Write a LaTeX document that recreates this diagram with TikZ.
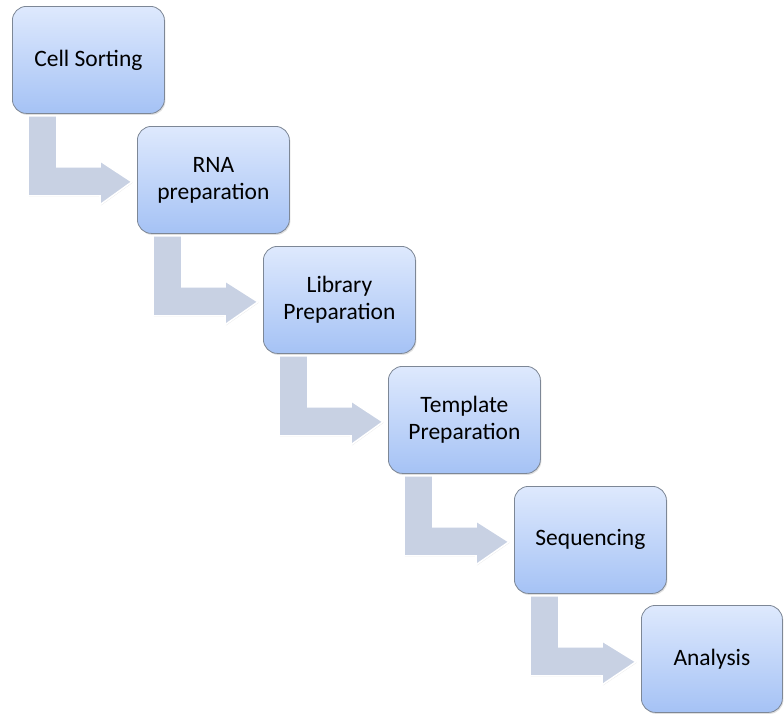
\documentclass[tikz,border=0pt]{standalone}
\usepackage{fontspec}
\setmainfont{Carlito}
\usetikzlibrary{calc,shadows}
\definecolor{boxtop}{RGB}{222,233,253}
\definecolor{boxbot}{RGB}{165,194,245}
\definecolor{boxline}{RGB}{125,135,150}
\definecolor{arrowfill}{RGB}{200,209,227}
\tikzset{
  stepbox/.style={draw=boxline, line width=0.8pt, rounded corners=14pt,
    top color=boxtop, bottom color=boxbot, anchor=north west,
    minimum width=152pt, minimum height=107pt, inner sep=0pt,
    align=center, font=\fontsize{23.5}{27}\selectfont,
    drop shadow={opacity=0.25, shadow xshift=1pt, shadow yshift=-1.5pt}},
  bentarrow/.style={fill=arrowfill, draw=white, line width=1.6pt, line join=miter,
    drop shadow={opacity=0.18, shadow xshift=0.8pt, shadow yshift=-0.8pt}}
}
\newcommand{\bendarrow}[2]{%
  \path[bentarrow] let \p1=(#1.south west), \p2=(#2.west) in
    (\x1+16pt,\y1-2pt) -- (\x1+16pt,\y1-82pt) -- (\x1+88pt,\y1-82pt)
    -- (\x1+88pt,\y1-91pt) -- (\x2-5pt,\y1-68pt) -- (\x1+88pt,\y1-47pt)
    -- (\x1+88pt,\y1-53pt) -- (\x1+45pt,\y1-53pt) -- (\x1+45pt,\y1-2pt) -- cycle;}
\begin{document}
\begin{tikzpicture}[x=1pt,y=-1pt]
\useasboundingbox[fill=white] (0,0) rectangle (784,713);
\node[stepbox] (s1) at (12,6) {Cell Sorting};
\node[stepbox] (s2) at (137,126) {RNA\\preparation};
\node[stepbox] (s3) at (263,246) {Library\\Preparation};
\node[stepbox] (s4) at (388,366) {Template\\Preparation};
\node[stepbox] (s5) at (514,486) {Sequencing};
\node[stepbox, minimum width=141pt] (s6) at (641,605) {Analysis};
\begin{scope}[on background layer/.style={}]
\end{scope}
\bendarrow{s1}{s2}
\bendarrow{s2}{s3}
\bendarrow{s3}{s4}
\bendarrow{s4}{s5}
\bendarrow{s5}{s6}
\end{tikzpicture}
\end{document}
